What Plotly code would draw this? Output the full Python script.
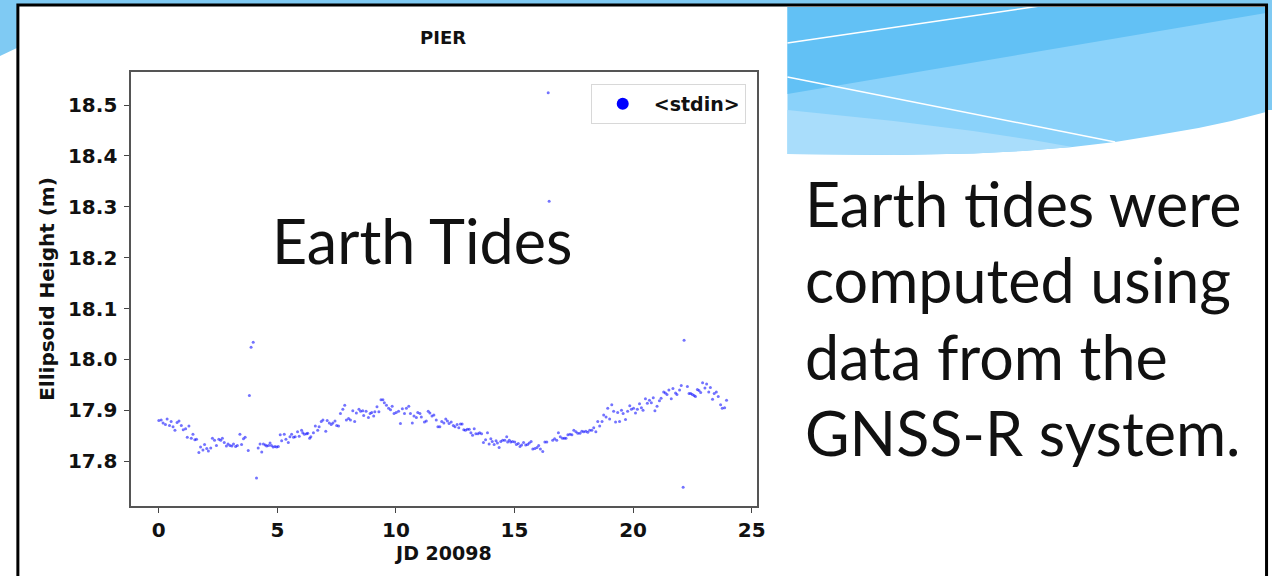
import plotly.graph_objects as go

# ---------------- data ----------------
jd_hours = [
    0.00, 0.10, 0.18, 0.28, 0.35, 0.45, 0.52, 0.60, 0.68, 0.77, 0.85, 0.95, 1.03, 1.13, 1.20, 1.27,
    1.37, 1.44, 1.52, 1.59, 1.69, 1.76, 1.86, 1.93, 2.02, 2.09, 2.19, 2.26, 2.35, 2.43, 2.53, 2.61,
    2.68, 2.76, 2.85, 2.92, 3.00, 3.08, 3.15, 3.24, 3.31, 3.42, 3.49, 3.57, 3.64, 3.77, 3.82, 3.89,
    3.98, 4.12, 4.19, 4.27, 4.34, 4.41, 4.49, 4.55, 4.63, 4.69, 4.75, 4.82, 4.90, 4.97, 5.04, 5.12,
    5.18,
    5.29, 5.36, 5.46, 5.53, 5.60, 5.68, 5.75, 5.85, 5.92, 6.02, 6.07, 6.14, 6.23, 6.28, 6.36, 6.41,
    6.52, 6.60, 6.70, 6.76, 6.85, 6.92, 7.04, 7.10, 7.19, 7.27, 7.34, 7.43, 7.50, 7.58, 7.66, 7.76,
    7.84, 7.91, 8.00, 8.08, 8.18, 8.26, 8.33, 8.44, 8.51, 8.60, 8.64, 8.74, 8.84, 8.91, 8.98, 9.06,
    9.11, 9.20, 9.28, 9.37, 9.45, 9.51, 9.60, 9.69, 9.77, 9.84, 9.92, 10.01, 10.11, 10.19, 10.27,
    10.36, 10.44,
    10.54, 10.61, 10.69, 10.76, 10.86, 10.92, 11.01, 11.07, 11.20, 11.28, 11.36, 11.43, 11.52, 11.60,
    11.70, 11.77, 11.85, 11.93, 12.02, 12.10, 12.17, 12.24, 12.33, 12.42, 12.49, 12.58, 12.65, 12.72,
    12.79, 12.86, 12.93, 13.01, 13.09, 13.16, 13.23, 13.30, 13.37, 13.46, 13.53, 13.61, 13.69, 13.78,
    13.86, 13.93, 14.00, 14.06, 14.14, 14.22, 14.28, 14.35, 14.42, 14.50, 14.59, 14.67, 14.71, 14.78,
    14.84, 14.92, 15.01, 15.08, 15.16, 15.23, 15.30, 15.38, 15.47, 15.55, 15.62,
    15.70, 15.77, 15.86, 15.95, 16.02, 16.09, 16.19, 16.28, 16.36, 16.42, 16.46, 16.61, 16.69, 16.78,
    16.85, 16.93, 17.02, 17.10, 17.17, 17.25, 17.34, 17.42, 17.50, 17.59, 17.67, 17.76, 17.84, 17.92,
    18.01, 18.09, 18.17, 18.26, 18.34, 18.43, 18.51, 18.59, 18.69, 18.76, 18.86, 18.93, 19.01, 19.10,
    19.18, 19.26, 19.35, 19.43, 19.51, 19.58, 19.68, 19.77, 19.86, 19.93, 20.02, 20.10, 20.18, 20.27,
    20.35, 20.42, 20.52, 20.60, 20.69, 20.77, 20.85, 20.92,
    21.01, 21.11, 21.18, 21.29, 21.36, 21.43, 21.51, 21.61, 21.68, 21.79, 21.85, 21.96, 22.03, 22.11,
    22.15, 22.29, 22.36, 22.43, 22.50, 22.57, 22.63, 22.71, 22.78, 22.85, 22.93, 23.03, 23.10, 23.19,
    23.26, 23.35, 23.42, 23.51, 23.59, 23.69, 23.76, 23.86, 23.94,
]

ellipsoid_height = [
    17.880, 17.881, 17.875, 17.872, 17.883, 17.870, 17.878, 17.868, 17.861, 17.876, 17.879, 17.870,
    17.862, 17.864, 17.847, 17.869, 17.845, 17.853, 17.842, 17.843, 17.817, 17.828, 17.822, 17.833,
    17.825, 17.820, 17.826, 17.845, 17.841, 17.831, 17.843, 17.841, 17.845, 17.837, 17.830, 17.834,
    17.831, 17.830, 17.834, 17.829, 17.831, 17.853, 17.833, 17.844, 17.847, 17.821, 17.929, 18.024,
    18.034, 17.767, 17.826, 17.834, 17.818, 17.834, 17.832, 17.830, 17.831, 17.836, 17.831, 17.828,
    17.829, 17.828, 17.829, 17.852, 17.840,
    17.853, 17.843, 17.837, 17.848, 17.853, 17.847, 17.848, 17.858, 17.849, 17.861, 17.856, 17.853,
    17.854, 17.855, 17.845, 17.848, 17.856, 17.869, 17.861, 17.868, 17.878, 17.881, 17.859, 17.880,
    17.875, 17.872, 17.875, 17.879, 17.870, 17.869, 17.894, 17.902, 17.910, 17.881, 17.884, 17.881,
    17.899, 17.878, 17.895, 17.902, 17.898, 17.899, 17.890, 17.898, 17.886, 17.894, 17.896, 17.889,
    17.897, 17.907, 17.897, 17.921, 17.921, 17.915, 17.910, 17.904, 17.901, 17.908, 17.894, 17.896,
    17.898, 17.874, 17.903, 17.894, 17.904,
    17.908, 17.894, 17.875, 17.889, 17.886, 17.896, 17.894, 17.887, 17.877, 17.879, 17.898, 17.895,
    17.889, 17.891, 17.881, 17.868, 17.868, 17.878, 17.875, 17.883, 17.879, 17.874, 17.877, 17.870,
    17.868, 17.872, 17.866, 17.873, 17.873, 17.862, 17.861, 17.863, 17.863, 17.856, 17.851, 17.864,
    17.854, 17.854, 17.856, 17.854, 17.837, 17.842, 17.856, 17.834, 17.844, 17.839, 17.833, 17.840,
    17.836, 17.827, 17.839, 17.841, 17.841, 17.848, 17.838, 17.841, 17.838, 17.839, 17.838, 17.833,
    17.835, 17.829, 17.832, 17.837, 17.832, 17.833, 17.836,
    17.839, 17.824, 17.825, 17.827, 17.831, 17.824, 17.819, 17.838, 17.838, 18.524, 18.311, 17.841,
    17.844, 17.841, 17.856, 17.848, 17.845, 17.845, 17.845, 17.852, 17.853, 17.852, 17.861, 17.858,
    17.855, 17.855, 17.859, 17.858, 17.859, 17.857, 17.861, 17.861, 17.866, 17.858, 17.878, 17.869,
    17.878, 17.891, 17.887, 17.904, 17.883, 17.911, 17.898, 17.877, 17.896, 17.878, 17.900, 17.894,
    17.882, 17.898, 17.909, 17.902, 17.904, 17.895, 17.902, 17.913, 17.905, 17.900, 17.923, 17.914,
    17.920, 17.915, 17.925, 17.899,
    17.908, 17.919, 17.924, 17.936, 17.934, 17.931, 17.940, 17.923, 17.943, 17.934, 17.931, 17.940,
    17.949, 17.749, 18.038, 17.947, 17.933, 17.933, 17.931, 17.929, 17.927, 17.941, 17.939, 17.935,
    17.954, 17.944, 17.952, 17.936, 17.945, 17.922, 17.933, 17.936, 17.927, 17.911, 17.904, 17.905,
    17.920,
]

x_ticks = [0, 5, 10, 15, 20, 25]
y_ticks = [17.8, 17.9, 18.0, 18.1, 18.2, 18.3, 18.4, 18.5]
y_tick_labels = ["17.8", "17.9", "18.0", "18.1", "18.2", "18.3", "18.4", "18.5"]

chart_title = "PIER"
x_title = "JD 20098"
y_title = "Ellipsoid Height (m)"
series_name = "&lt;stdin&gt;"
overlay_text = "Earth Tides"
side_lines = ["Earth tides were", "computed using", "data from the", "GNSS-R system."]

# ---------------- layout helpers ----------------
W, H = 1281, 576


def px(x):
    return x / W


def py(y):
    return 1 - y / H


def path(points):
    return "M " + " L ".join(f"{px(a):.5f},{py(b):.5f}" for a, b in points) + " Z"


def line_path(points):
    return "M " + " L ".join(f"{px(a):.5f},{py(b):.5f}" for a, b in points)


MPL_FONT = "DejaVu Sans"
SLIDE_FONT = "Lato"

fig = go.Figure()
fig.add_trace(go.Scatter(
    x=jd_hours, y=ellipsoid_height, mode="markers", name=series_name, showlegend=False,
    marker=dict(color="#0000ff", size=3, opacity=0.55, line=dict(width=0)),
))
# legend entry (solid marker, as in the reference legend)
fig.add_trace(go.Scatter(
    x=[None], y=[None], mode="markers", name=series_name, showlegend=True,
    marker=dict(color="#0000ff", size=12, line=dict(width=0)),
))

shapes = []
# slide decorations: top strip + left corner
shapes.append(dict(type="path", xref="paper", yref="paper", layer="below",
                   path=path([(0, 0), (W, 0), (W, 5), (17, 5), (17, 48), (0, 56)]),
                   fillcolor="#7fcaf3", line=dict(width=0)))
shapes.append(dict(type="rect", xref="paper", yref="paper", layer="below",
                   x0=px(1277), x1=1, y0=py(110), y1=1,
                   fillcolor="#7fcaf3", line=dict(width=0)))
# wave (top right)
wave_bottom = [(1275, 112), (1240, 121), (1207, 128), (1160, 136), (1123, 142), (1080, 147),
               (1030, 151), (980, 153.5), (900, 155), (793, 154)]
shapes.append(dict(type="path", xref="paper", yref="paper", layer="below",
                   path=path([(793, 7), (1275, 7)] + wave_bottom),
                   fillcolor="#8ad2fa", line=dict(width=0)))
shapes.append(dict(type="path", xref="paper", yref="paper", layer="below",
                   path=path([(793, 7), (1275, 7), (1275, 13), (793, 94)]),
                   fillcolor="#62c1f5", line=dict(width=0)))
shapes.append(dict(type="path", xref="paper", yref="paper", layer="below",
                   path=path([(793, 110), (900, 121), (980, 131), (1040, 140), (1080, 147),
                              (1030, 151), (980, 153.5), (900, 155), (793, 154)]),
                   fillcolor="#a9ddfb", line=dict(width=0)))
shapes.append(dict(type="path", xref="paper", yref="paper", layer="below",
                   path=line_path([(793, 43), (1047, 6)]),
                   line=dict(color="white", width=1.5)))
shapes.append(dict(type="path", xref="paper", yref="paper", layer="below",
                   path=line_path([(793, 77), (1123, 142)]),
                   line=dict(color="white", width=1.5)))
# black slide frame
shapes.append(dict(type="path", xref="paper", yref="paper", layer="above",
                   path=line_path([(18, H + 5), (18, 5), (1275.5, 5), (1275.5, H + 5)]),
                   line=dict(color="black", width=3)))

annotations = [
    dict(text=overlay_text, xref="paper", yref="paper", x=px(272), y=py(240),
         xanchor="left", yanchor="middle", showarrow=False,
         font=dict(family=SLIDE_FONT, size=61, color="#111111")),
]
for i, line in enumerate(side_lines):
    annotations.append(dict(text=line, xref="paper", yref="paper", x=px(809), y=py(203 + 76.5 * i),
                            xanchor="left", yanchor="middle", showarrow=False,
                            font=dict(family=SLIDE_FONT, size=61, color="#111111")))
annotations.append(dict(text=f"<b>{chart_title}</b>", xref="paper", yref="paper",
                        x=px(446), y=py(38), xanchor="center", yanchor="middle", showarrow=False,
                        font=dict(family=MPL_FONT, size=18, color="#111111")))


def bold(size):
    return dict(family=MPL_FONT, size=size, color="#111111", weight="bold")


fig.update_layout(
    width=W, height=H, autosize=False,
    margin=dict(l=0, r=0, t=0, b=0),
    paper_bgcolor="white", plot_bgcolor="white",
    showlegend=True,
    legend=dict(x=px(751), y=py(84), xanchor="right", yanchor="top",
                bgcolor="white", bordercolor="#d8d8d8", borderwidth=1,
                itemsizing="constant", itemwidth=52,
                font=bold(19)),
    xaxis=dict(domain=[px(132), px(762)], range=[-1.17, 25.21],
               tickvals=x_ticks, ticks="outside", ticklen=5, tickcolor="#444",
               showline=True, mirror=True, linecolor="#555", linewidth=1.5,
               showgrid=False, zeroline=False, tickfont=bold(20),
               title=dict(text=x_title, font=bold(19), standoff=5)),
    yaxis=dict(domain=[py(506), py(72)], range=[17.712, 18.565],
               tickvals=y_ticks, ticktext=y_tick_labels, ticks="outside", ticklen=5, tickcolor="#444",
               ticklabelstandoff=3,
               showline=True, mirror=True, linecolor="#555", linewidth=1.5,
               showgrid=False, zeroline=False, tickfont=bold(20),
               title=dict(text=y_title, font=bold(20), standoff=8)),
    shapes=shapes,
    annotations=annotations,
)

fig.write_html("out.html", config={"displayModeBar": False},
               post_script="document.body.style.margin='0';")
